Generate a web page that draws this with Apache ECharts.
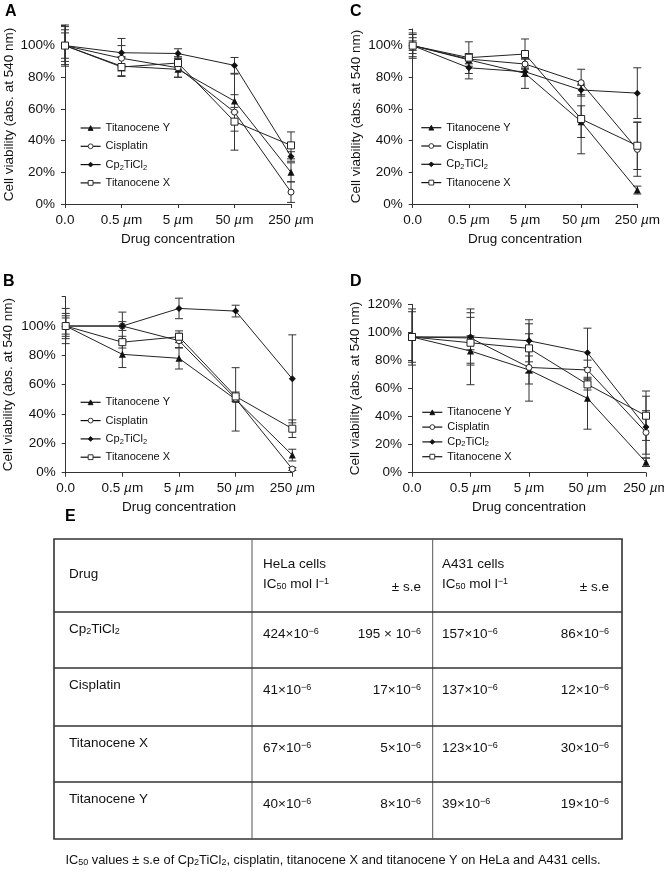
<!DOCTYPE html>
<html><head><meta charset="utf-8">
<script src="https://cdn.jsdelivr.net/npm/echarts@6/dist/echarts.min.js"></script>
<style>html,body{margin:0;padding:0;background:#fff}#c{width:664px;height:871px}</style>
</head><body><div id="c"></div>
<script>
// ---------- DATA ----------
const concentrations = ['0.0', '0.5 µm', '5 µm', '50 µm', '250 µm'];
const seriesNames = ['Titanocene Y', 'Cisplatin', 'Cp2TiCl2', 'Titanocene X'];
const yTicks = [0, 20, 40, 60, 80, 100, 120];

// Panel A
const A_titanoceneY = [100, 87, 85, 65, 20];
const A_cisplatin   = [100, 92, 86, 58, 7.5];
const A_cp2ticl2    = [100, 95.5, 95, 87.5, 30];
const A_titanoceneX = [100, 86.5, 89, 52, 37];
const A_titanoceneY_se = [8, 6, 5, 4, 6];
const A_cisplatin_se   = [10, 8, 6, 24, 6.5];
const A_cp2ticl2_se    = [13, 9, 3, 5, 3];
const A_titanoceneX_se = [12, 6, 4, 6, 8.5];

// Panel B
const B_titanoceneY = [100, 80.7, 78, 50, 12];
const B_cisplatin   = [100, 100, 90, 50.5, 2.5];
const B_cp2ticl2    = [100, 100, 112, 110.2, 64];
const B_titanoceneX = [100, 89, 92.7, 52, 30];
const B_titanoceneY_se = [12, 9, 7.3, 21.6, 4];
const B_cisplatin_se   = [8.6, 9.5, 5, 2, 1];
const B_cp2ticl2_se    = [5.5, 3, 7, 4, 30];
const B_titanoceneX_se = [7, 4, 4, 3, 6];

// Panel C
const C_titanoceneY = [100, 91, 82.5, 52, 8.8];
const C_cisplatin   = [100, 91.5, 88.4, 76.6, 34.5];
const C_cp2ticl2    = [100, 86, 83.5, 72, 70];
const C_titanoceneX = [100, 92.4, 94.7, 53.7, 36.8];
const C_titanoceneY_se = [7, 4, 9.5, 10, 2.5];
const C_cisplatin_se   = [5, 3, 3, 8.5, 17];
const C_cp2ticl2_se    = [8, 7, 3, 3, 16];
const C_titanoceneX_se = [3, 10, 9.5, 22, 15];

// Panel D
const D_titanoceneY = [96.7, 86.7, 73.2, 53, 7.4];
const D_cisplatin   = [96.7, 96, 75, 73.2, 28.7];
const D_cp2ticl2    = [96.7, 96.7, 94, 85.5, 32.5];
const D_titanoceneX = [96.7, 92.6, 88.6, 62.9, 40.6];
const D_titanoceneY_se = [20, 24, 10, 22, 3];
const D_cisplatin_se   = [18, 18, 24, 7, 15.5];
const D_cp2ticl2_se    = [2, 20, 15, 17.5, 22];
const D_titanoceneX_se = [2, 5, 17.5, 4, 17.6];

// Panel E table
const tableDrugs = ['Cp2TiCl2', 'Cisplatin', 'Titanocene X', 'Titanocene Y'];
const helaIC50 = ['424', '41', '67', '40'];
const helaSE   = ['195', '17', '5', '8'];
const a431IC50 = ['157', '137', '123', '39'];
const a431SE   = ['86', '12', '30', '19'];
const captionText = 'IC50 values ± s.e of Cp2TiCl2, cisplatin, titanocene X and titanocene Y on HeLa and A431 cells.';

// ---------- LAYOUT / STYLE ----------
const FF = '"Liberation Sans", Arial, sans-serif';
const INK = '#111';
const AX = '#333';

const panelData = {
  A: [[A_titanoceneY, A_titanoceneY_se], [A_cisplatin, A_cisplatin_se], [A_cp2ticl2, A_cp2ticl2_se], [A_titanoceneX, A_titanoceneX_se]],
  B: [[B_titanoceneY, B_titanoceneY_se], [B_cisplatin, B_cisplatin_se], [B_cp2ticl2, B_cp2ticl2_se], [B_titanoceneX, B_titanoceneX_se]],
  C: [[C_titanoceneY, C_titanoceneY_se], [C_cisplatin, C_cisplatin_se], [C_cp2ticl2, C_cp2ticl2_se], [C_titanoceneX, C_titanoceneX_se]],
  D: [[D_titanoceneY, D_titanoceneY_se], [D_cisplatin, D_cisplatin_se], [D_cp2ticl2, D_cp2ticl2_se], [D_titanoceneX, D_titanoceneX_se]]
};

const panels = [
  {key: 'A', grid: {left: 65, top: 25, width: 226, height: 179}, yMax: 113, labelMax: 100, nameGap: 47,
   legend: {left: 80, top: 121, gap: 4.3, lh: 14}, letter: [5, 4]},
  {key: 'C', grid: {left: 412.7, top: 29, width: 224.6, height: 175}, yMax: 110.5, labelMax: 100, nameGap: 49,
   legend: {left: 420.7, top: 120.7, gap: 4.3, lh: 14}, letter: [350, 4]},
  {key: 'B', grid: {left: 65.7, top: 296.7, width: 226.6, height: 176}, yMax: 120, labelMax: 100, nameGap: 50,
   legend: {left: 80, top: 395.3, gap: 4.3, lh: 14}, letter: [3, 274]},
  {key: 'D', grid: {left: 412, top: 304.3, width: 234, height: 168.4}, yMax: 120, labelMax: 120, nameGap: 50,
   legend: {left: 421.7, top: 405.8, gap: 1.8, lh: 13}, letter: [350, 274]}
];

const seriesStyle = [
  {symbol: 'triangle', symbolSize: 7, itemStyle: {color: '#111', borderColor: '#111', borderWidth: 0}},
  {symbol: 'circle', symbolSize: 6, itemStyle: {color: '#fff', borderColor: '#222', borderWidth: 1}},
  {symbol: 'diamond', symbolSize: 7, itemStyle: {color: '#111', borderColor: '#111', borderWidth: 0}},
  {symbol: 'rect', symbolSize: 7, itemStyle: {color: '#fff', borderColor: '#222', borderWidth: 1}}
];

function subName(n) {
  return n.replace(/Cp2TiCl2/g, 'Cp{sub|2}TiCl{sub|2}').replace(/IC50/g, 'IC{sub|50}');
}

function errRender(params, api) {
  const x = api.value(0), lo = api.value(1), hi = api.value(2);
  const t = api.coord([x, hi]), b = api.coord([x, lo]);
  const w = 4;
  const st = {stroke: '#333', lineWidth: 1};
  return {type: 'group', children: [
    {type: 'line', shape: {x1: t[0], y1: t[1], x2: b[0], y2: b[1]}, style: st},
    {type: 'line', shape: {x1: t[0] - w, y1: t[1], x2: t[0] + w, y2: t[1]}, style: st},
    {type: 'line', shape: {x1: b[0] - w, y1: b[1], x2: b[0] + w, y2: b[1]}, style: st}
  ]};
}

const grids = [], xAxes = [], yAxes = [], series = [], legends = [], graphics = [];

panels.forEach((p, pi) => {
  grids.push(Object.assign({outerBoundsMode: 'none', containLabel: false}, p.grid));
  xAxes.push({
    type: 'category', gridIndex: pi, data: concentrations, boundaryGap: false,
    axisLine: {lineStyle: {color: AX, width: 1}},
    axisTick: {show: true, length: 4, interval: 0, lineStyle: {color: AX}},
    axisLabel: {margin: 9, fontSize: 13.5, fontFamily: FF, color: INK, interval: 0, hideOverlap: false,
      formatter: v => v.replace('µ', '{i|µ}'),
      rich: {i: {fontStyle: 'italic', fontSize: 13.5, fontFamily: FF, color: INK}}},
    name: 'Drug concentration', nameLocation: 'middle', nameGap: 28,
    nameTextStyle: {fontSize: 13.5, fontFamily: FF, color: INK}
  });
  yAxes.push({
    type: 'value', gridIndex: pi, min: 0, max: p.yMax, interval: 20,
    splitLine: {show: false},
    axisLine: {show: true, lineStyle: {color: AX, width: 1}},
    axisTick: {show: true, length: 4, lineStyle: {color: AX}},
    axisLabel: {margin: 10, fontSize: 13.5, fontFamily: FF, color: INK,
      showMaxLabel: true,
      formatter: v => (yTicks.indexOf(v) >= 0 && v <= p.labelMax) ? v + '%' : ''},
    name: 'Cell viability (abs. at 540 nm)', nameLocation: 'middle', nameGap: p.nameGap,
    nameTextStyle: {fontSize: 13.5, fontFamily: FF, color: INK}
  });
  const errData = [];
  panelData[p.key].forEach((pair, si) => {
    const vals = pair[0], se = pair[1];
    series.push(Object.assign({
      type: 'line', name: seriesNames[si], xAxisIndex: pi, yAxisIndex: pi,
      data: vals, z: 3, showSymbol: true, showAllSymbol: true,
      lineStyle: {color: '#222', width: 1},
      emphasis: {disabled: true}, animation: false
    }, seriesStyle[si]));
    vals.forEach((v, i) => errData.push([i, v - se[i], v + se[i]]));
  });
  series.push({
    type: 'custom', name: 'err' + p.key, xAxisIndex: pi, yAxisIndex: pi,
    renderItem: errRender, data: errData, encode: {x: 0, y: [1, 2]},
    clip: false, z: 2, silent: true, animation: false
  });
  legends.push({
    orient: 'vertical', left: p.legend.left, top: p.legend.top,
    itemWidth: 20, itemHeight: 6, itemGap: p.legend.gap,
    data: seriesNames, selectedMode: false, padding: 0,
    itemStyle: {borderWidth: 0.9},
    lineStyle: {width: 1.2, color: '#111'},
    formatter: n => subName(n),
    textStyle: {fontSize: 11, fontFamily: FF, color: INK, lineHeight: p.legend.lh,
      rich: {sub: {fontSize: 7.5, fontFamily: FF, color: INK, lineHeight: 5, verticalAlign: 'bottom'}}}
  });
  graphics.push({type: 'text', left: p.letter[0], top: p.letter[1],
    style: {text: p.key, fontSize: 16, fontWeight: 'bold', fontFamily: FF, fill: '#000'}});
});

// ---------- TABLE (panel E) ----------
const T = {left: 54, right: 622, top: 539, bottom: 839, cols: [252, 432.7], rows: [612, 668, 726, 782]};
const richT = {
  sub: {fontSize: 9, fontFamily: FF, fill: INK, color: INK, lineHeight: 5, verticalAlign: 'bottom'},
  sup: {fontSize: 9, fontFamily: FF, fill: INK, color: INK, lineHeight: 5, verticalAlign: 'top'}
};
function tText(x, y, txt, align, size) {
  return {type: 'text', x: x, y: y, silent: true,
    style: {text: txt, fontSize: size || 13.5, fontFamily: FF, fill: INK, align: align || 'left',
      verticalAlign: 'middle', lineHeight: 14, rich: richT}};
}
function sci(v, spaced) { return spaced ? v + ' × 10{sup|−6}' : v + '×10{sup|−6}'; }

graphics.push({type: 'text', left: 65, top: 509,
  style: {text: 'E', fontSize: 16, fontWeight: 'bold', fontFamily: FF, fill: '#000'}});
graphics.push({type: 'rect', silent: true,
  shape: {x: T.left, y: T.top, width: T.right - T.left, height: T.bottom - T.top},
  style: {fill: 'none', stroke: '#333', lineWidth: 1.6}});
T.cols.forEach(cx => graphics.push({type: 'line', silent: true,
  shape: {x1: cx, y1: T.top, x2: cx, y2: T.bottom}, style: {stroke: '#555', lineWidth: 1}}));
T.rows.forEach(ry => graphics.push({type: 'line', silent: true,
  shape: {x1: T.left, y1: ry, x2: T.right, y2: ry}, style: {stroke: '#333', lineWidth: 1.3}}));

graphics.push(tText(69, 574, 'Drug'));
graphics.push(tText(263, 564, 'HeLa cells'));
graphics.push(tText(263, 584, 'IC{sub|50} mol l{sup|−1}'));
graphics.push(tText(421, 587, '± s.e', 'right'));
graphics.push(tText(442, 564, 'A431 cells'));
graphics.push(tText(442, 584, 'IC{sub|50} mol l{sup|−1}'));
graphics.push(tText(609, 587, '± s.e', 'right'));

const rowTops = [T.rows[0], T.rows[1], T.rows[2], T.rows[3]];
tableDrugs.forEach((d, i) => {
  const top = rowTops[i];
  graphics.push(tText(69, top + 17, subName(d)));
  graphics.push(tText(263, top + 22, sci(helaIC50[i], false)));
  graphics.push(tText(421, top + 22, sci(helaSE[i], i === 0), 'right'));
  graphics.push(tText(442, top + 22, sci(a431IC50[i], false)));
  graphics.push(tText(609, top + 22, sci(a431SE[i], false), 'right'));
});

graphics.push(tText(333, 860, subName(captionText), 'center', 12.8));

const chart = echarts.init(document.getElementById('c'), null, {renderer: 'canvas'});
chart.setOption({
  animation: false,
  backgroundColor: '#fff',
  grid: grids, xAxis: xAxes, yAxis: yAxes, series: series, legend: legends,
  graphic: {elements: graphics}
});
</script>
</body></html>
